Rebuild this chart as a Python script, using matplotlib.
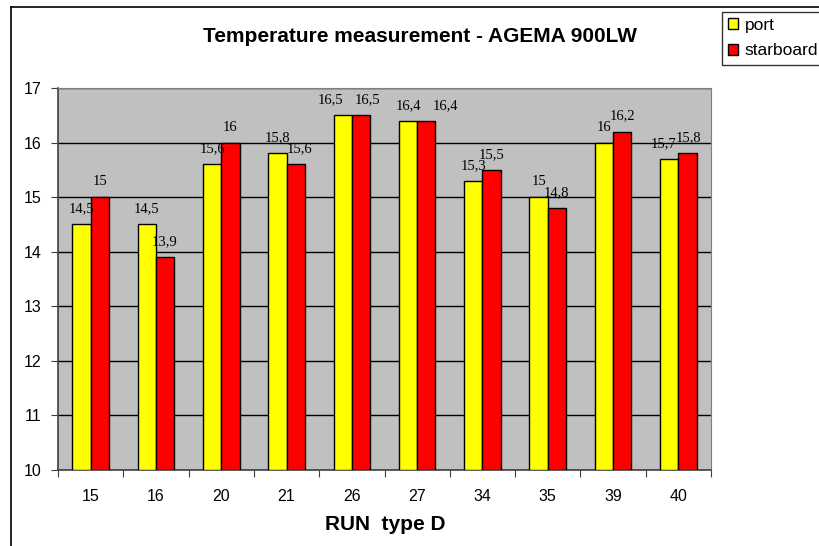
import numpy as np
import matplotlib
matplotlib.use('Agg')
from matplotlib import pyplot as plt
from matplotlib.lines import Line2D

runs = ['15', '16', '20', '21', '26', '27', '34', '35', '39', '40']
port = [14.5, 14.5, 15.6, 15.8, 16.5, 16.4, 15.3, 15, 16, 15.7]
starboard = [15, 13.9, 16, 15.6, 16.5, 16.4, 15.5, 14.8, 16.2, 15.8]

# small sideways nudges of value labels (points), like Excel moved them
nudge_port = {4: -9, 9: -4}
nudge_star = {3: 3, 4: 5, 5: 14, 9: 1}

plt.rcParams['font.family'] = ['Liberation Sans', 'DejaVu Sans']

W, H = 819, 546
fig = plt.figure(figsize=(W / 100, H / 100), dpi=100)
ax = fig.add_axes([58 / W, (H - 470) / H, (711 - 58) / W, (470 - 88) / H])

# chart frame (left and top edges only visible)
fig.add_artist(Line2D([11 / W, 11 / W], [0, 1 - 7 / H], color='black', lw=1.2))
fig.add_artist(Line2D([11 / W, 1], [1 - 7 / H, 1 - 7 / H], color='black', lw=1.2))

ax.set_facecolor('#c0c0c0')
x = np.arange(len(runs))
w = 0.28
b1 = ax.bar(x - w / 2, np.array(port) - 10, w, bottom=10, color='#ffff00',
            edgecolor='black', lw=1, zorder=3, label='port')
b2 = ax.bar(x + w / 2, np.array(starboard) - 10, w, bottom=10, color='#ff0000',
            edgecolor='black', lw=1, zorder=3, label='starboard')

def lab(v):
    return ('%g' % v).replace('.', ',')

for i, (xi, v) in enumerate(zip(x - w / 2, port)):
    ax.annotate(lab(v), (xi, v), xytext=(nudge_port.get(i, 0), 6.5),
                textcoords='offset points', ha='center', va='bottom',
                family='Liberation Serif', fontsize=10.5)
for i, (xi, v) in enumerate(zip(x + w / 2, starboard)):
    ax.annotate(lab(v), (xi, v), xytext=(nudge_star.get(i, 0), 6.5),
                textcoords='offset points', ha='center', va='bottom',
                family='Liberation Serif', fontsize=10.5)

ax.set_xlim(-0.5, len(runs) - 0.5)
ax.set_ylim(10, 17)
ax.set_yticks(range(10, 18))
ax.yaxis.grid(True, color='black', lw=1, zorder=1)
ax.set_axisbelow(True)
ax.set_xticks(np.arange(-0.5, len(runs)), minor=False)
ax.set_xticklabels([])
ax.set_xticks(x, minor=True)
ax.set_xticklabels(runs, minor=True)
ax.tick_params(axis='x', which='minor', length=0, pad=14, labelsize=11.5)
ax.tick_params(axis='x', which='major', length=5, color='#404040')
ax.tick_params(axis='y', length=5, labelsize=11.5, pad=7, color='#404040')
for s in ['top', 'right']:
    ax.spines[s].set_color('#808080')
for s in ['left', 'bottom']:
    ax.spines[s].set_color('#404040')
    ax.spines[s].set_linewidth(1.2)

fig.text(420 / W, 1 - 37 / H, 'Temperature measurement - AGEMA 900LW',
         ha='center', va='center', fontsize=15, fontweight='bold')
fig.text(385 / W, 1 - 524 / H, 'RUN  type D', ha='center', va='center',
         fontsize=15, fontweight='bold')

leg = fig.legend(handles=[b1, b2], loc='upper left',
                 bbox_to_anchor=(722 / W, 1 - 12 / H), fontsize=12.5,
                 frameon=True, fancybox=False, edgecolor='black',
                 handlelength=0.6, handleheight=0.6, handletextpad=0.35,
                 borderpad=0.35, labelspacing=0.6, borderaxespad=0)
leg.get_frame().set_linewidth(1)

fig.savefig('out.png', dpi=100)
